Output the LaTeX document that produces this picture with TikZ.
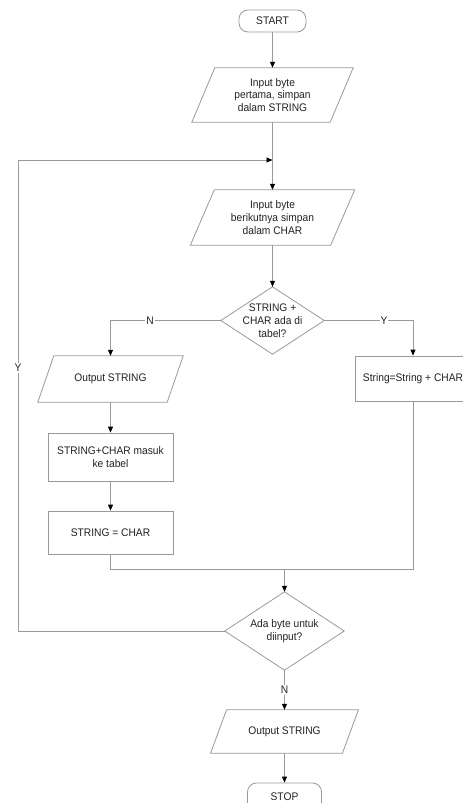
\documentclass[tikz,border=0pt]{standalone}
\usepackage{fontspec}
\setmainfont[FakeStretch=0.93]{Liberation Sans}
\usetikzlibrary{arrows.meta}
\definecolor{ln}{HTML}{9A9A9A}
\definecolor{txt}{HTML}{222222}
\newcommand\ioshape[2]{%
  \draw[shapeline] ([xshift=#2]#1.north west) -- ([xshift=#2]#1.north east)
    -- ([xshift=-#2]#1.south east) -- ([xshift=-#2]#1.south west) -- cycle;}
\newcommand\decshape[1]{%
  \draw[shapeline] (#1.north) -- (#1.east) -- (#1.south) -- (#1.west) -- cycle;}
\begin{document}
\begin{tikzpicture}[x=1pt,y=-1pt,
  base/.style={inner sep=0pt, align=center, text=txt, font=\fontsize{11}{12.8}\selectfont},
  term/.style={base, draw=ln, line width=0.8pt, rounded corners=9pt},
  proc/.style={base, draw=ln, line width=0.8pt},
  io/.style={base},
  dec/.style={base},
  lab/.style={base, fill=white, inner sep=1pt},
  flow/.style={ln, line width=0.8pt, -{Triangle[length=6pt,width=5pt,color=black]}},
  wire/.style={ln, line width=0.8pt},
  shapeline/.style={ln, line width=0.8pt}]
\clip (0,0) rectangle (463,803);
\fill[white] (0,0) rectangle (463,803);

\node[term, minimum width=67pt, minimum height=22pt] (start) at (272.5,21) {START};
\node[io, minimum width=138pt, minimum height=54pt] (p1) at (272.5,95) {Input byte\\pertama, simpan\\dalam STRING};
\node[io, minimum width=140pt, minimum height=55pt] (p2) at (272.5,217.5) {Input byte\\berikutnya simpan\\dalam CHAR};
\node[dec, minimum width=103pt, minimum height=67pt] (d1) at (272.5,320.5) {STRING +\\CHAR ada di\\tabel?};
\node[io, minimum width=129pt, minimum height=46pt] (o1) at (110.5,379) {Output STRING};
\node[proc, minimum width=116pt, minimum height=45pt] (ry) at (413,378.5) {String=String + CHAR};
\node[proc, minimum width=125pt, minimum height=48pt] (r1) at (110.5,457) {STRING+CHAR masuk\\ke tabel};
\node[proc, minimum width=125pt, minimum height=43pt] (r2) at (110.5,532.5) {STRING = CHAR};
\node[dec, minimum width=119pt, minimum height=78pt] (d2) at (284.5,631) {Ada byte untuk\\diinput?};
\node[io, minimum width=131.5pt, minimum height=43pt] (o2) at (284.5,731.5) {Output STRING};
\node[term, minimum width=74pt, minimum height=28pt] (stop) at (284.5,797) {STOP};

\ioshape{p1}{11.5pt}
\ioshape{p2}{12pt}
\ioshape{o1}{8pt}
\ioshape{o2}{8pt}
\decshape{d1}
\decshape{d2}

\coordinate (m) at (272.5,160);
\coordinate (j) at (284.5,569);
\coordinate (lx) at (18,400);

\draw[flow] (start.south) -- (p1.north);
\draw[flow] (p1.south) -- (p2.north);
\draw[flow] (p2.south) -- (d1.north);
\draw[flow] (d1.west) -| (o1.north);
\draw[flow] (d1.east) -| (ry.north);
\draw[flow] (o1.south) -- (r1.north);
\draw[flow] (r1.south) -- (r2.north);
\draw[wire] (r2.south) |- (j);
\draw[wire] (ry.south) |- (j);
\draw[flow] (j) -- (d2.north);
\draw[flow] (d2.south) -- (o2.north);
\draw[flow] (o2.south) -- (stop.north);
\draw[flow] (d2.west) -- (d2.west -| lx) |- (m);

\node[lab] (ln1) at (150,320.5) {N};
\node[lab] (ly1) at (384,320.5) {Y};
\node[lab] (ly2) at (18,368) {Y};
\node[lab] (ln2) at (284.5,690) {N};
\end{tikzpicture}
\end{document}
